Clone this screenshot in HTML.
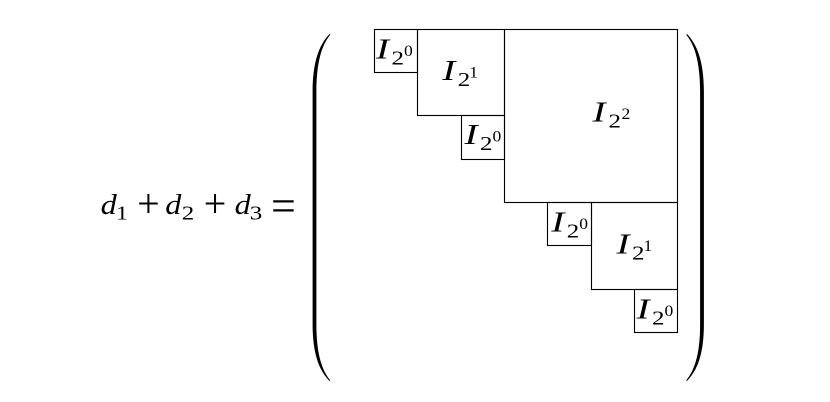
<!DOCTYPE html>
<html><head><meta charset="utf-8"><style>
html,body{margin:0;padding:0;background:#fff;font-family:"Liberation Serif",serif;}
svg{display:block;}
text{font-family:"Liberation Serif",serif;fill:#000;}
.it{font-style:italic;}
</style></head><body>
<svg width="830" height="402" viewBox="0 0 830 402" xmlns="http://www.w3.org/2000/svg" style="font-family:'Liberation Serif',serif">
<rect width="830" height="402" fill="#fff"/>
<!-- equation -->
<g>
<text class="it" font-size="28" transform="translate(100.6,214) scale(1.15,1)">d</text>
<text font-size="20" transform="translate(116,219.3) scale(1.2,1)">1</text>
<text font-size="40" transform="translate(137.1,217)">+</text>
<text class="it" font-size="28" transform="translate(165.3,214) scale(1.15,1)">d</text>
<text font-size="20" transform="translate(181.7,219.3) scale(1.25,1)">2</text>
<text font-size="40" transform="translate(203.8,217)">+</text>
<text class="it" font-size="28" transform="translate(234.6,214) scale(1.15,1)">d</text>
<text font-size="20" transform="translate(249.7,219.3) scale(1.25,1)">3</text>
<text font-size="44" transform="translate(271,220.3)">=</text>
</g>
<!-- parentheses -->
<path d="M329.5,34 C319,45 312.6,62 312.6,92 L312.6,324 C312.6,354 319,370 329.5,381 L330.3,380.4 C321,369 316.4,352 316.4,324 L316.4,92 C316.4,64 321,46 330.3,34.6 Z" fill="#000"/>
<path d="M329.5,34 C319,45 312.6,62 312.6,92 L312.6,324 C312.6,354 319,370 329.5,381 L330.3,380.4 C321,369 316.4,352 316.4,324 L316.4,92 C316.4,64 321,46 330.3,34.6 Z" fill="#000" transform="translate(1016.5,0) scale(-1,1)"/>
<!-- boxes -->
<g fill="none" stroke="#000" stroke-width="1.1">
<rect x="374.5" y="29.5" width="43" height="43"/>
<rect x="417.5" y="29.5" width="87" height="86"/>
<rect x="461.5" y="115.5" width="43" height="44"/>
<rect x="504.5" y="29.5" width="173" height="173"/>
<rect x="547.5" y="202.5" width="44" height="43"/>
<rect x="591.5" y="202.5" width="86" height="87"/>
<rect x="634.5" y="289.5" width="43" height="43"/>
</g>
<!-- labels -->
<g transform="translate(376,58.3)">
<text class="it" font-size="29" transform="scale(1.35,1)">I</text>
<text font-size="20" transform="translate(15.5,6) scale(1.25,1)">2</text>
<text font-size="16" transform="translate(28,-2.5) scale(1.1,1)">0</text>
</g>
<g transform="translate(442.2,80)">
<text class="it" font-size="29" transform="scale(1.35,1)">I</text>
<text font-size="20" transform="translate(15.5,6) scale(1.25,1)">2</text>
<text font-size="16" transform="translate(27,-2.5) scale(1.1,1)">1</text>
</g>
<g transform="translate(464.5,144)">
<text class="it" font-size="29" transform="scale(1.35,1)">I</text>
<text font-size="20" transform="translate(15.5,6) scale(1.25,1)">2</text>
<text font-size="16" transform="translate(28,-2.5) scale(1.1,1)">0</text>
</g>
<g transform="translate(592.5,121.7)">
<text class="it" font-size="29" transform="scale(1.35,1)">I</text>
<text font-size="20" transform="translate(16,6) scale(1.25,1)">2</text>
<text font-size="16" transform="translate(29,-2.5) scale(1.1,1)">2</text>
</g>
<g transform="translate(551.2,231.7)">
<text class="it" font-size="29" transform="scale(1.35,1)">I</text>
<text font-size="20" transform="translate(15.5,6) scale(1.25,1)">2</text>
<text font-size="16" transform="translate(28,-2.5) scale(1.1,1)">0</text>
</g>
<g transform="translate(616.5,253.3)">
<text class="it" font-size="29" transform="scale(1.35,1)">I</text>
<text font-size="20" transform="translate(15.5,6) scale(1.25,1)">2</text>
<text font-size="16" transform="translate(27,-2.5) scale(1.1,1)">1</text>
</g>
<g transform="translate(636.5,318.3)">
<text class="it" font-size="29" transform="scale(1.35,1)">I</text>
<text font-size="20" transform="translate(15.5,6) scale(1.25,1)">2</text>
<text font-size="16" transform="translate(28,-2.5) scale(1.1,1)">0</text>
</g>
</svg>
</body></html>
